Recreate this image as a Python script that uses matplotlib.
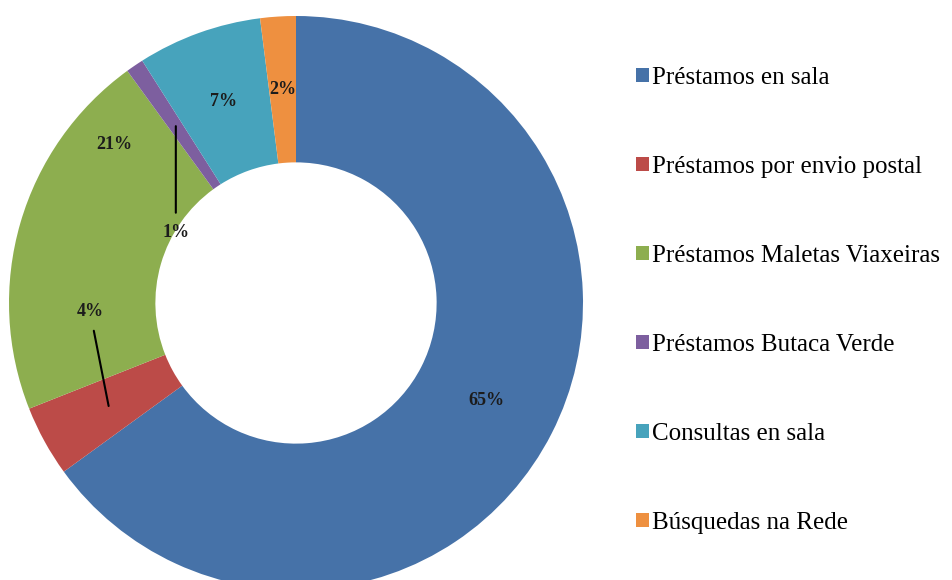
import numpy as np
import matplotlib
matplotlib.use("Agg")
import matplotlib.pyplot as plt

categories = [
    "Préstamos en sala",
    "Préstamos por envio postal",
    "Préstamos Maletas Viaxeiras",
    "Préstamos Butaca Verde",
    "Consultas en sala",
    "Búsquedas na Rede",
]
shares = [65, 4, 21, 1, 7, 2]
pct_labels = ["65%", "4%", "21%", "1%", "7%", "2%"]
colors = ["#4672A8", "#BC4B48", "#8DAE4F", "#7D5F9F", "#47A3BC", "#EE9040"]

plt.rcParams["font.family"] = ["Liberation Serif", "DejaVu Serif"]

W, H, R = 952, 580, 287.0
cx, cy = 296, 303
fig = plt.figure(figsize=(W / 100, H / 100), dpi=100)
ax = fig.add_axes([0, 0, 1, 1])

wedges, _ = ax.pie(shares, colors=colors, startangle=90, counterclock=False,
                   radius=1.0, wedgeprops=dict(width=0.51, linewidth=0))
# pie() resets limits/aspect, so map 1 data unit = R pixels afterwards
ax.set_aspect("auto")
ax.set_xlim(-cx / R, (W - cx) / R)
ax.set_ylim(-(H - cy) / R, cy / R)
ax.axis("off")


def mid_point(w, r):
    a = np.deg2rad((w.theta1 + w.theta2) / 2)
    return r * np.cos(a), r * np.sin(a)


txt = dict(ha="center", va="center", fontsize=13, fontweight="bold", color="#1c1c1c")
# labels sitting inside their slices
for i in (0, 4, 5):
    ax.text(*mid_point(wedges[i], 0.745), pct_labels[i], **txt)
# 21% label pushed outward by Excel
a = np.deg2rad(139)
ax.text(0.84 * np.cos(a), 0.84 * np.sin(a), pct_labels[2], **txt)
# labels with leader lines
for i, off in ((3, (0.0, -0.37)), (1, (-0.065, 0.33))):
    x0, y0 = mid_point(wedges[i], 0.745)
    ax.annotate(pct_labels[i], xy=(x0, y0), xytext=(x0 + off[0], y0 + off[1]),
                arrowprops=dict(arrowstyle="-", color="black", lw=1.5,
                                shrinkA=6, shrinkB=0), **txt)

leg = fig.legend(wedges, categories, loc="upper left", bbox_to_anchor=(636 / W, 1 - 67 / H),
                 frameon=False, fontsize=18, handlelength=0.5, handleheight=0.5,
                 handletextpad=0.15, labelspacing=2.68, borderpad=0, borderaxespad=0)

fig.savefig("out.png", dpi=100)
